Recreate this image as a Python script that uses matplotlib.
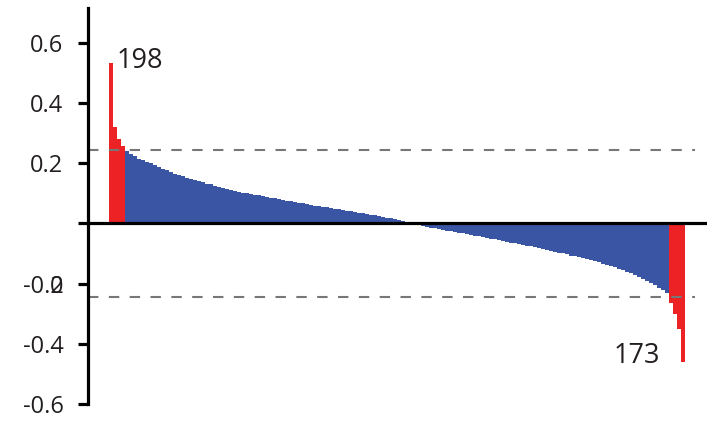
import numpy as np
import matplotlib
matplotlib.use("Agg")
import matplotlib.pyplot as plt

plt.rcParams["font.family"] = ["Open Sans", "DejaVu Sans"]

# ranked scores, highest first
scores = [
    0.531, 0.320, 0.280, 0.256, 0.240, 0.231, 0.222, 0.215, 0.209, 0.204,
    0.199, 0.193, 0.187, 0.182, 0.176, 0.171, 0.165, 0.160, 0.156, 0.152,
    0.148, 0.144, 0.140, 0.136, 0.132, 0.129, 0.125, 0.122, 0.118, 0.115,
    0.111, 0.108, 0.105, 0.102, 0.100, 0.097, 0.095, 0.093, 0.090, 0.088,
    0.085, 0.083, 0.080, 0.078, 0.075, 0.073, 0.070, 0.068, 0.066, 0.064,
    0.062, 0.059, 0.057, 0.055, 0.053, 0.051, 0.049, 0.046, 0.044, 0.042,
    0.040, 0.037, 0.035, 0.033, 0.031, 0.028, 0.026, 0.024, 0.021, 0.019,
    0.016, 0.013, 0.010, 0.007, 0.004, 0.001, -0.002, -0.005, -0.008, -0.011,
    -0.014, -0.017, -0.019, -0.021, -0.024, -0.026, -0.028, -0.031, -0.033, -0.036,
    -0.038, -0.041, -0.043, -0.046, -0.048, -0.051, -0.053, -0.056, -0.058, -0.061,
    -0.064, -0.066, -0.069, -0.071, -0.074, -0.077, -0.080, -0.083, -0.085, -0.088,
    -0.091, -0.094, -0.097, -0.100, -0.103, -0.107, -0.110, -0.113, -0.116, -0.120,
    -0.123, -0.126, -0.130, -0.134, -0.138, -0.142, -0.146, -0.151, -0.156, -0.161,
    -0.166, -0.172, -0.178, -0.185, -0.192, -0.199, -0.206, -0.214, -0.222, -0.232,
    -0.265, -0.300, -0.350, -0.460,
]
cutoff = 0.245
top_label = "198"
bottom_label = "173"
ytick_vals = [0.6, 0.4, 0.2, 0.0, -0.2, -0.4, -0.6]
ytick_text = ["0.6", "0.4", "0.2", "", "-0.2", "-0.4", "-0.6"]

RED = "#ED2224"
BLUE = "#3A55A4"
INK = "#231F20"

scores = np.array(scores)
idx = np.arange(len(scores))
colors = [RED if abs(v) > cutoff else BLUE for v in scores]

fig = plt.figure(figsize=(7.18, 4.21), dpi=100)
ax = fig.add_axes([0.1226, 0.0404, 0.8621, 0.9406])

ax.bar(idx, scores, width=1.0, color=colors, linewidth=0, antialiased=False)

ax.axhline(0, color="black", lw=2.3, zorder=3)
for c in (cutoff, -cutoff):
    ax.axhline(c, xmax=0.98, color="#777777", lw=1.5, dashes=(5, 5), zorder=2)

ax.set_xlim(-5.75, 149)
ax.set_ylim(-0.6, 0.715)

for s in ("top", "right", "bottom"):
    ax.spines[s].set_visible(False)
ax.spines["left"].set_linewidth(2.3)
ax.set_xticks([])
ax.set_yticks(ytick_vals)
ax.set_yticklabels(ytick_text)
ax.tick_params(axis="y", length=7.2, width=2.3, pad=10.5, labelsize=17,
               labelcolor=INK)

# stray "0" drawn over the -0.2 label
ax.annotate("0", xy=(0, -0.2), xycoords=("axes fraction", "data"),
            xytext=(-18.1, 0), textcoords="offset points",
            ha="right", va="center_baseline", fontsize=17, color=INK)

ax.annotate(top_label, xy=(0, scores[0]), xytext=(4.0, -3.6),
            textcoords="offset points", ha="left", va="baseline",
            fontsize=19.5, color=INK)
ax.annotate(bottom_label, xy=(len(scores) - 1, scores[-1]), xytext=(-16.5, -1),
            textcoords="offset points", ha="right", va="baseline",
            fontsize=19.5, color=INK)

fig.savefig("out.png", dpi=100)
